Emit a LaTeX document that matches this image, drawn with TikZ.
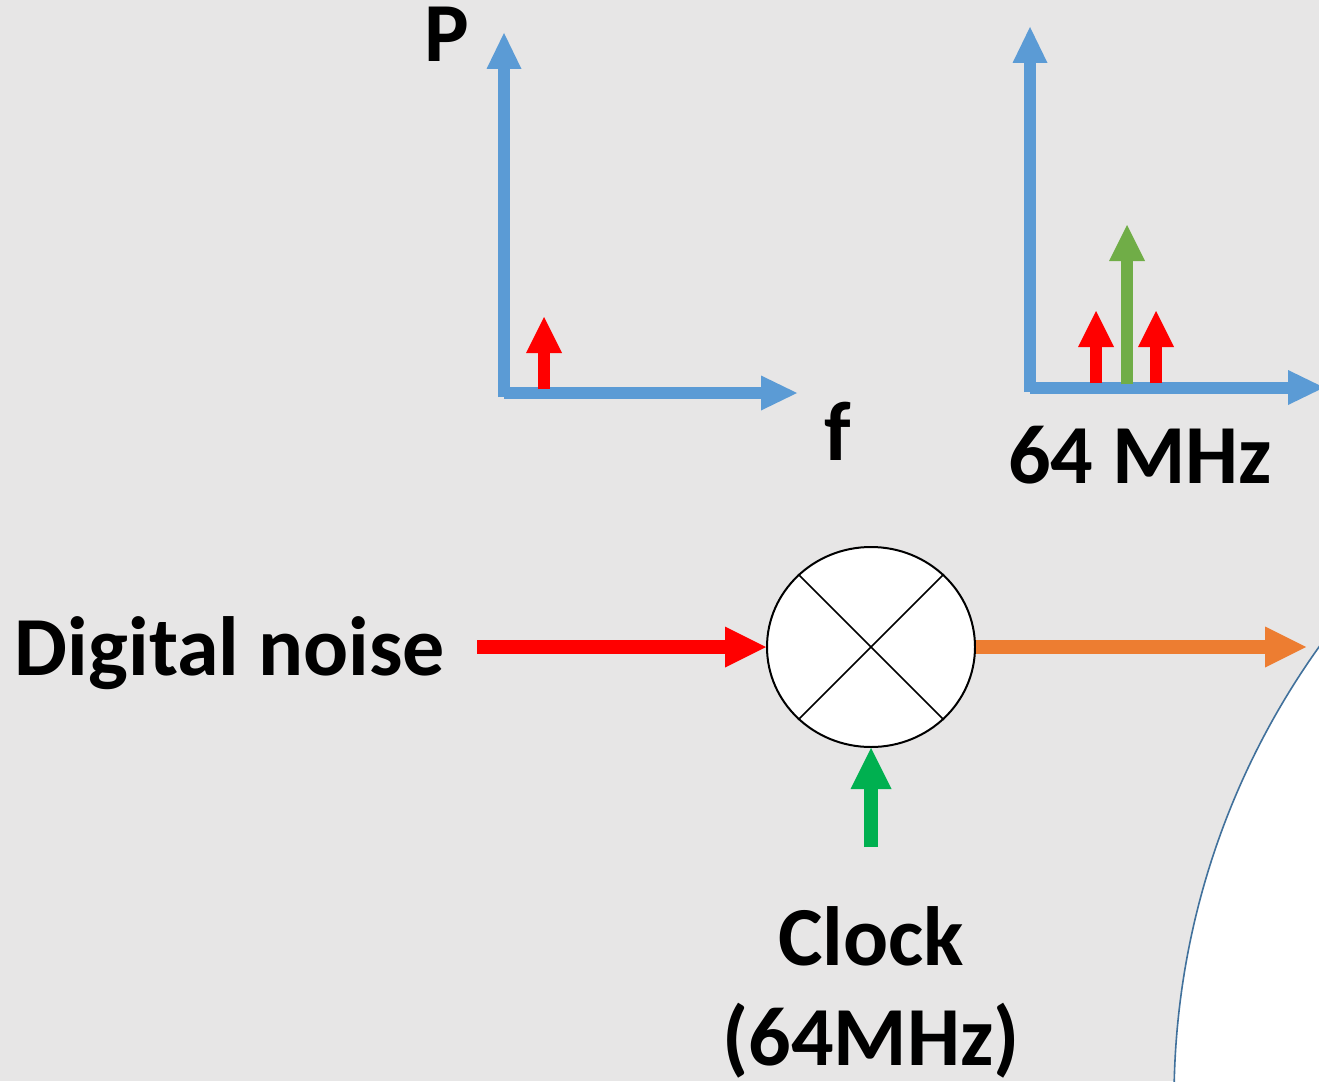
\documentclass[tikz,border=0pt]{standalone}
\usepackage{fontspec}
\setmainfont{Carlito}
\usetikzlibrary{arrows.meta,shapes.geometric}
\definecolor{bg}{HTML}{E7E6E6}
\definecolor{axisblue}{HTML}{5B9BD5}
\definecolor{sigred}{HTML}{FF0000}
\definecolor{lgreen}{HTML}{70AD47}
\definecolor{clkgreen}{HTML}{00B050}
\definecolor{outorange}{HTML}{ED7D31}
\definecolor{edgeblue}{HTML}{41719C}
\tikzset{
  txt/.style={font=\bfseries\fontsize{84}{100}\selectfont, inner sep=0pt, anchor=base, text=black},
  axisarrow/.style={draw=axisblue, line width=12pt, -{Triangle[length=36pt,width=35pt,line width=0pt]}},
  spike/.style={line width=12pt, -{Triangle[length=36pt,width=36pt,line width=0pt]}},
  mainarrow/.style={line width=14pt, -{Triangle[length=41pt,width=41pt,line width=0pt]}},
  mixer/.style={draw=black, line width=2pt, fill=white, ellipse, minimum width=208pt, minimum height=200pt, inner sep=0pt}
}
\begin{document}
\begin{tikzpicture}[x=1pt,y=-1pt]
\useasboundingbox (0,0) rectangle (1319,1081);
\clip (0,0) rectangle (1319,1081);
\fill[bg] (0,0) rectangle (1319,1081);
% white region with blue edge
\draw[edgeblue, line width=1.6pt, fill=white] (1954,1100) circle[radius=780pt];

% left spectrum
\coordinate (lv0) at (504,397);
\coordinate (lv1) at (504,33);
\coordinate (lh0) at (504,393);
\coordinate (lh1) at (797,393);
\draw[axisarrow] (lv0) -- (lv1);
\draw[axisarrow] (lh0) -- (lh1);
\coordinate (ls0) at (544,389);
\coordinate (ls1) at (544,317);
\draw[spike, sigred] (ls0) -- (ls1);
\node[txt] (P) at (447,62) {P};
\node[txt] (f) at (838,460) {f};

% right spectrum
\coordinate (rv0) at (1030,392);
\coordinate (rv1) at (1030,27);
\coordinate (rh0) at (1030,387.5);
\coordinate (rh1) at (1324,387.5);
\draw[axisarrow] (rv0) -- (rv1);
\draw[axisarrow] (rh0) -- (rh1);
\coordinate (ra0) at (1096,383);
\coordinate (ra1) at (1096,311);
\coordinate (rb0) at (1156,383);
\coordinate (rb1) at (1156,311);
\coordinate (rg0) at (1127,384);
\coordinate (rg1) at (1127,225);
\draw[spike, sigred] (ra0) -- (ra1);
\draw[spike, sigred] (rb0) -- (rb1);
\draw[spike, lgreen] (rg0) -- (rg1);
\node[txt] (mhz) at (1140,483) {64 MHz};

% mixer
\node[mixer] (mix) at (871,647) {};
\draw[line width=1.6pt] (mix.135) -- (mix.-45);
\draw[line width=1.6pt] (mix.45) -- (mix.-135);

\node[txt] (noise) at (230,675) {Digital noise};
\coordinate (nin) at (477,647);
\draw[mainarrow, sigred] (nin) -- (mix.west);

\coordinate (oend) at (1306,647);
\draw[mainarrow, outorange] (mix.east) -- (oend);

\coordinate (cin) at (871,847);
\draw[mainarrow, clkgreen] (cin) -- (mix.south);
\node[txt, align=center] (clock) at (871,1065) {Clock\\(64MHz)};
\end{tikzpicture}
\end{document}
